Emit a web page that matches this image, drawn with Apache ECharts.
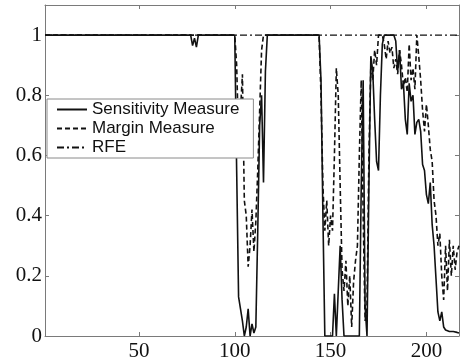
<!DOCTYPE html>
<html>
<head>
<meta charset="utf-8">
<script src="https://cdn.jsdelivr.net/npm/echarts@6/dist/echarts.min.js"></script>
<style>html,body{margin:0;padding:0;background:#fff;}#c{width:461px;height:364px;}</style>
</head>
<body>
<div id="c"></div>
<script>
// x positions / values (points where the curve changes)
var sensX = [1,77,78,79,80,81,100,101,102,103,104,105,106,107,108,109,110,111,112,113,114,115,116,117,144,145,146,147,151,152,153,154,155,156,157,165,166,167,168,169,170,171,172,173,174,175,176,177,178,183,184,185,186,187,188,189,190,191,192,193,194,195,196,197,198,199,200,201,202,203,204,205,206,207,208,209,210,211,212,213,214,215,216,217];
var sensY = [1,1,0.965,0.99,0.96,1,1,0.55,0.13,0.09,0.05,0.0,0.03,0.09,0.0,0.04,0.01,0.03,0.35,0.7,0.8,0.51,0.88,1,1,0.85,0.4,0.0,0.0,0.14,0.0,0.15,0.3,0.12,0.0,0.0,0.5,0.85,0.1,0.0,0.5,0.93,0.88,0.72,0.58,0.55,0.8,0.97,1,1,0.98,0.88,0.95,0.82,0.84,0.72,0.67,0.84,0.78,0.8,0.67,0.71,0.72,0.68,0.57,0.55,0.47,0.44,0.51,0.37,0.3,0.19,0.08,0.05,0.08,0.03,0.02,0.025,0.015,0.012,0.015,0.01,0.012,0.01];

var margX = [1,100,101,102,103,104,105,106,107,108,109,110,111,112,113,114,115,144,145,146,147,148,149,150,151,152,153,154,155,156,157,158,159,160,161,162,163,164,165,166,167,168,169,170,171,172,173,174,175,177,178,179,180,181,182,183,184,185,186,187,188,189,190,191,192,193,194,195,196,197,198,199,200,201,202,203,204,205,206,207,208,209,210,211,212,213,214,215,216,217];
var margY = [1,1,0.9,0.65,0.75,0.87,0.45,0.4,0.23,0.3,0.42,0.28,0.38,0.55,0.75,0.95,1,1,0.8,0.5,0.35,0.45,0.3,0.4,0.35,0.6,0.89,0.8,0.5,0.22,0.15,0.25,0.1,0.2,0.03,0.18,0.25,0.3,0.6,0.85,0.4,0.05,0.1,0.6,0.9,0.85,0.95,0.9,1,1,0.97,0.92,0.98,0.94,0.96,0.89,0.92,0.87,0.95,0.9,0.83,0.86,0.81,0.97,0.85,0.89,0.82,1.0,0.93,0.85,0.75,0.68,0.77,0.7,0.62,0.58,0.45,0.4,0.3,0.34,0.2,0.12,0.3,0.15,0.32,0.2,0.3,0.22,0.28,0.3];

var rfeX = [1,217];
var rfeY = [1,1];

var xTicks = [50,100,150,200];
var yTicks = [0,0.2,0.4,0.6,0.8,1];
var seriesNames = ['Sensitivity Measure','Margin Measure','RFE'];

function pairs(xs, ys){ var out=[]; for(var i=0;i<xs.length;i++) out.push([xs[i], ys[i]]); return out; }
function yFmt(v){ for (var i=0;i<yTicks.length;i++){ if (Math.abs(v-yTicks[i])<1e-9) return String(yTicks[i]); } return ''; }

var axisColor = '#7a7a7a';
var chart = echarts.init(document.getElementById('c'), null, {renderer:'canvas'});
chart.setOption({
  animation: false,
  backgroundColor: '#fff',
  grid: {left: 45, right: 2, top: 5, bottom: 28, containLabel: false},
  legend: {
    data: seriesNames,
    orient: 'vertical',
    left: 47, top: 99,
    itemWidth: 30, itemHeight: 14, itemGap: 2,
    padding: [2, 14, 2, 9],
    backgroundColor: '#fff',
    borderColor: '#8a8a8a', borderWidth: 1,
    itemStyle: {opacity: 0},
    textStyle: {fontFamily: 'Liberation Sans', fontSize: 17, color: '#111'}
  },
  xAxis: [{
    type: 'value', min: 1, max: 217, position: 'bottom',
    axisLine: {show: true, onZero: false, lineStyle: {color: axisColor, width: 1}},
    axisTick: {show: true, inside: true, length: 4, customValues: xTicks, lineStyle: {color: axisColor}},
    axisLabel: {show: true, customValues: xTicks, margin: 5, fontFamily: 'Liberation Serif', fontSize: 21, color: '#111'},
    splitLine: {show: false}
  }, {
    type: 'value', min: 1, max: 217, position: 'top',
    axisLine: {show: true, onZero: false, lineStyle: {color: axisColor, width: 1}},
    axisTick: {show: true, inside: true, length: 4, customValues: xTicks, lineStyle: {color: axisColor}},
    axisLabel: {show: false},
    splitLine: {show: false}
  }],
  yAxis: [{
    type: 'value', min: 0, max: 1.1, interval: 0.2, position: 'left',
    axisLine: {show: true, onZero: false, lineStyle: {color: axisColor, width: 1}},
    axisTick: {show: true, inside: true, length: 4, lineStyle: {color: axisColor}},
    axisLabel: {show: true, margin: 3, formatter: yFmt, fontFamily: 'Liberation Serif', fontSize: 21, color: '#111'},
    splitLine: {show: false}
  }, {
    type: 'value', min: 0, max: 1.1, interval: 0.2, position: 'right',
    axisLine: {show: true, onZero: false, lineStyle: {color: axisColor, width: 1}},
    axisTick: {show: true, inside: true, length: 4, lineStyle: {color: axisColor}},
    axisLabel: {show: false},
    splitLine: {show: false}
  }],
  series: [
    {name: seriesNames[2], type: 'line', data: pairs(rfeX, rfeY), showSymbol: false, symbol: 'none',
     itemStyle: {color: '#111'},
     lineStyle: {color: '#111', width: 1.2, type: [7,3,2,3]}, z: 1},
    {name: seriesNames[1], type: 'line', data: pairs(margX, margY), showSymbol: false, symbol: 'none',
     itemStyle: {color: '#111'},
     lineStyle: {color: '#111', width: 1.6, type: [5,3]}, z: 2},
    {name: seriesNames[0], type: 'line', data: pairs(sensX, sensY), showSymbol: false, symbol: 'none',
     itemStyle: {color: '#111'},
     lineStyle: {color: '#111', width: 1.6, type: 'solid'}, z: 3}
  ]
});
</script>
</body>
</html>
